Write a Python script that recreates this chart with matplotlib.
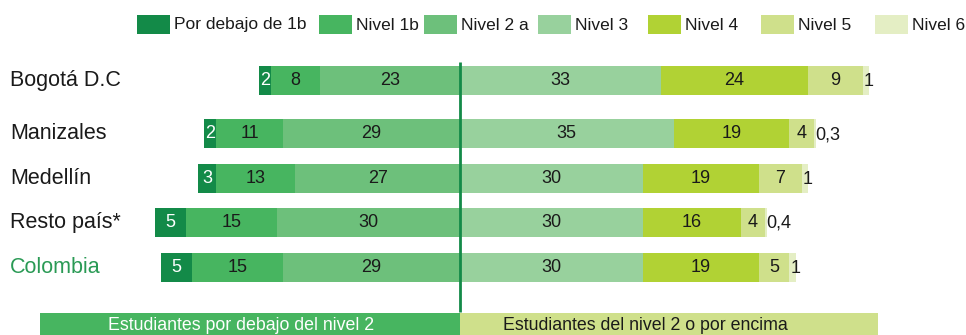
import matplotlib.pyplot as plt
from matplotlib.patches import Rectangle

plt.rcParams['font.family'] = ['Liberation Sans', 'DejaVu Sans']

# Resultados por nivel de desempeño (%)
ciudades = ['Bogotá D.C', 'Manizales', 'Medellín', 'Resto país*', 'Colombia']
bajo_1b = [2, 2, 3, 5, 5]
nivel_1b = [8, 11, 13, 15, 15]
nivel_2a = [23, 29, 27, 30, 29]
nivel_3 = [33, 35, 30, 30, 30]
nivel_4 = [24, 19, 19, 16, 19]
nivel_5 = [9, 4, 7, 4, 5]
nivel_6 = [1, 0.3, 1, 0.4, 1]

niveles = ['Por debajo de 1b', 'Nivel 1b', 'Nivel 2 a', 'Nivel 3',
           'Nivel 4', 'Nivel 5', 'Nivel 6']
colores = ['#138a48', '#47b560', '#6dc07b', '#98d19d',
           '#b1d234', '#cfe08b', '#e4eec4']

W, H = 966, 335
fig = plt.figure(figsize=(W / 100, H / 100), dpi=100)
ax = fig.add_axes([0, 0, 1, 1])
escala = 6.1          # px por punto porcentual
centro = 460
ax.set_xlim(-centro / escala, (W - centro) / escala)
ax.set_ylim(H, 0)
ax.axis('off')

filas = [80.5, 133.5, 178.5, 222.5, 267.5]
alto = 29


def fmt(v):
    return str(v).replace('.', ',') if v % 1 else str(int(v))


for i, y in enumerate(filas):
    # lado izquierdo: por debajo del nivel 2
    izq = [bajo_1b[i], nivel_1b[i], nivel_2a[i]]
    fin = 0
    for k in (2, 1, 0):
        v = izq[k]
        ax.barh(y, -v, left=fin, height=alto, color=colores[k], lw=0)
        ax.text(fin - v / 2, y, fmt(v), ha='center', va='center', fontsize=13,
                color='white' if k == 0 else '#1a1a1a')
        fin -= v
    # lado derecho: nivel 2 o por encima
    der = [nivel_3[i], nivel_4[i], nivel_5[i], nivel_6[i]]
    ini = 0
    for k, v in enumerate(der):
        ax.barh(y, v, left=ini, height=alto, color=colores[k + 3], lw=0)
        if k < 3:
            ax.text(ini + v / 2, y, fmt(v), ha='center', va='center',
                    fontsize=13, color='#1a1a1a')
        else:
            ax.text(ini + 0.2, y + 1, fmt(v), ha='left', va='center',
                    fontsize=13, color='#1a1a1a')
        ini += v
    ax.text(10 / W, 1 - y / H, ciudades[i], transform=ax.transAxes,
            ha='left', va='center', fontsize=15.5,
            color='#2a9a55' if ciudades[i] == 'Colombia' else '#1a1a1a')

# línea central
ax.plot([0, 0], [62, 312], color='#138a48', lw=2, solid_capstyle='butt')

# leyenda
pos_leyenda = [137, 319, 424, 538, 648, 761, 875]
for x, nom, col in zip(pos_leyenda, niveles, colores):
    fig.add_artist(Rectangle((x / W, 1 - 34 / H), 33 / W, 19 / H,
                             transform=fig.transFigure, color=col, lw=0))
    fig.text((x + 37) / W, 1 - 25 / H, nom, ha='left', va='center',
             fontsize=12.5, color='#1a1a1a')

# franjas inferiores
fig.add_artist(Rectangle((40 / W, 0), 420 / W, 22 / H,
                         transform=fig.transFigure, color='#47b560', lw=0))
fig.add_artist(Rectangle((460 / W, 0), 418 / W, 22 / H,
                         transform=fig.transFigure, color='#cfe08b', lw=0))
fig.text(241 / W, 10 / H, 'Estudiantes por debajo del nivel 2', ha='center',
         va='center', fontsize=12.8, color='white')
fig.text(645 / W, 10 / H, 'Estudiantes del nivel 2 o por encima', ha='center',
         va='center', fontsize=12.8, color='#1a1a1a')

fig.savefig('out.png', dpi=100)
